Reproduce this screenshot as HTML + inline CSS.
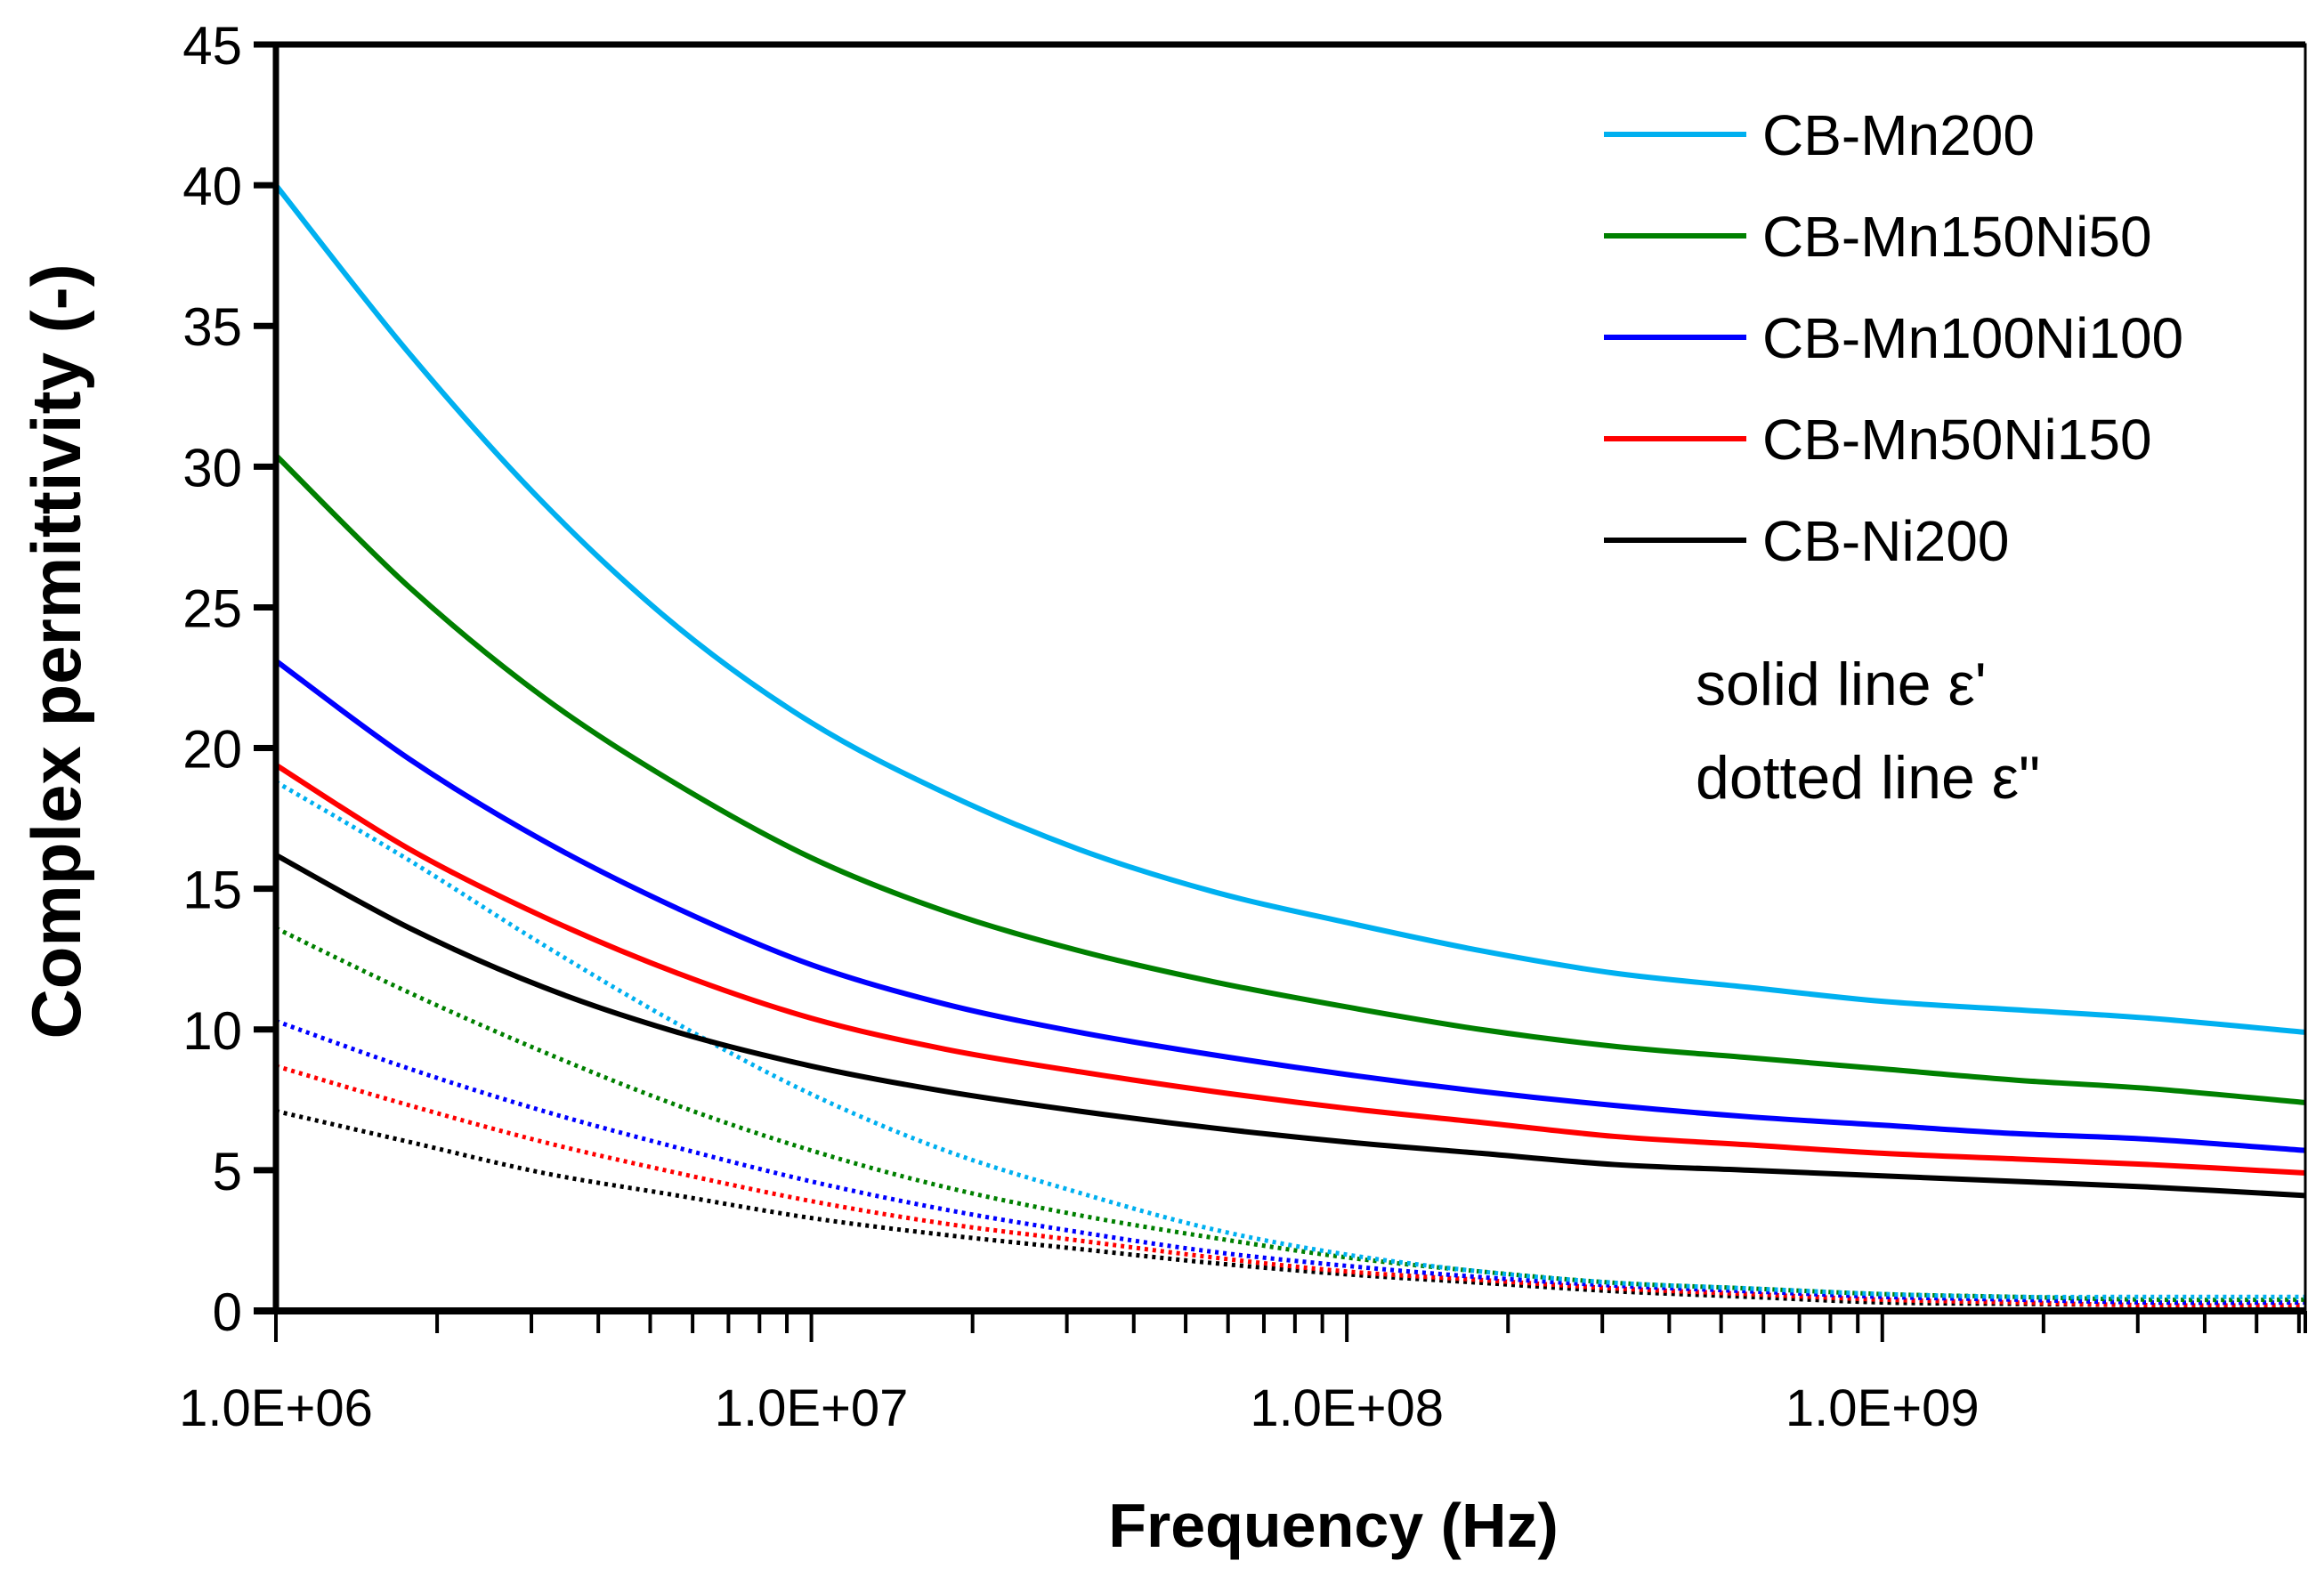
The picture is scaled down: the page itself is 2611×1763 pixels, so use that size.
<!DOCTYPE html>
<html><head><meta charset="utf-8"><style>
html,body{margin:0;padding:0;background:#fff;}
svg{display:block;font-family:"Liberation Sans",sans-serif;}
</style></head><body>
<svg id="chart" width="2611" height="1763" viewBox="0 0 2611 1763" xmlns="http://www.w3.org/2000/svg">
<g id="plot"></g>
<g id="axes"></g>
<text x="1498" y="1738" font-size="70" font-weight="bold" text-anchor="middle">Frequency (Hz)</text>
<text transform="translate(90,732) rotate(-90)" font-size="78" font-weight="bold" text-anchor="middle">Complex permittivity (-)</text>
<g id="legend"></g>
<text x="1905" y="792" font-size="68">solid line ε'</text>
<text x="1905" y="897" font-size="68">dotted line ε"</text>
</svg>
<script>
const logFreq = [6, 6.25, 6.5, 6.75, 7, 7.25, 7.5, 7.75, 8, 8.25, 8.5, 8.75, 9, 9.25, 9.5, 9.79];
const seriesNames = ["CB-Mn200","CB-Mn150Ni50","CB-Mn100Ni100","CB-Mn50Ni150","CB-Ni200"];
const seriesColors = ["#00B0F0","#008000","#0000FF","#FF0000","#000000"];
const realMn200 = [40, 34, 28.7, 24.3, 20.9, 18.4, 16.4, 14.9, 13.8, 12.8, 12.0, 11.5, 11.0, 10.7, 10.4, 9.9];
const realMn150Ni50 = [30.4, 25.7, 21.8, 18.7, 16.1, 14.2, 12.8, 11.7, 10.8, 10.0, 9.4, 9.0, 8.6, 8.2, 7.9, 7.4];
const realMn100Ni100 = [23.1, 19.6, 16.7, 14.3, 12.3, 10.9, 9.9, 9.1, 8.4, 7.8, 7.3, 6.9, 6.6, 6.3, 6.1, 5.7];
const realMn50Ni150 = [19.4, 16.4, 14.0, 12.0, 10.4, 9.3, 8.5, 7.8, 7.2, 6.7, 6.2, 5.9, 5.6, 5.4, 5.2, 4.9];
const realNi200 = [16.2, 13.6, 11.5, 9.9, 8.7, 7.8, 7.1, 6.5, 6.0, 5.6, 5.2, 5.0, 4.8, 4.6, 4.4, 4.1];
const imagMn200 = [18.8, 16.0, 13.0, 10.2, 7.7, 5.7, 4.2, 2.9, 2.0, 1.4, 1.0, 0.8, 0.6, 0.5, 0.5, 0.5];
const imagMn150Ni50 = [13.6, 11.3, 9.2, 7.3, 5.7, 4.4, 3.4, 2.6, 1.9, 1.4, 1.0, 0.8, 0.6, 0.5, 0.4, 0.4];
const imagMn100Ni100 = [10.3, 8.6, 7.1, 5.8, 4.6, 3.6, 2.8, 2.1, 1.6, 1.2, 0.9, 0.7, 0.5, 0.4, 0.3, 0.3];
const imagMn50Ni150 = [8.7, 7.3, 6.0, 4.9, 3.9, 3.1, 2.5, 1.9, 1.4, 1.1, 0.8, 0.6, 0.4, 0.3, 0.2, 0.2];
const imagNi200 = [7.1, 6.0, 4.9, 4.1, 3.3, 2.7, 2.2, 1.7, 1.3, 1.0, 0.7, 0.5, 0.3, 0.25, 0.2, 0.1];
const yTicks = [0,5,10,15,20,25,30,35,40,45];
const xTickLabels = ["1.0E+06","1.0E+07","1.0E+08","1.0E+09"];

const realSeries = [realMn200, realMn150Ni50, realMn100Ni100, realMn50Ni150, realNi200];
const imagSeries = [imagMn200, imagMn150Ni50, imagMn100Ni100, imagMn50Ni150, imagNi200];
const NS = "http://www.w3.org/2000/svg";
const L = 310, R = 2590, T = 50, B = 1473;
const xMin = 6, xMax = 9.79;
function xs(lf){ return L + (lf - xMin) / (xMax - xMin) * (R - L); }
function ys(v){ return B - v / 45 * (B - T); }
function mk(tag, attrs, parent){ const e = document.createElementNS(NS, tag); for (const k in attrs) e.setAttribute(k, attrs[k]); parent.appendChild(e); return e; }
function pathFor(vals){
  const p = logFreq.map((f,i)=>[xs(f), ys(vals[i])]);
  let d = "M" + p[0][0] + "," + p[0][1];
  for (let i=0;i<p.length-1;i++){
    const p0 = p[Math.max(0,i-1)], p1 = p[i], p2 = p[i+1], p3 = p[Math.min(p.length-1,i+2)];
    const c1 = [p1[0]+(p2[0]-p0[0])/6, p1[1]+(p2[1]-p0[1])/6];
    const c2 = [p2[0]-(p3[0]-p1[0])/6, p2[1]-(p3[1]-p1[1])/6];
    d += " C" + c1.join(",") + " " + c2.join(",") + " " + p2.join(",");
  }
  return d;
}
const plot = document.getElementById("plot");
for (let s = 4; s >= 0; s--) {
  const e = mk("path", {d: pathFor(imagSeries[s]), fill:"none", stroke: seriesColors[s], "stroke-width":5, "stroke-dasharray":"4 5"}, plot);
  
  
}
for (let s = 4; s >= 0; s--) {
  const e = mk("path", {d: pathFor(realSeries[s]), fill:"none", stroke: seriesColors[s], "stroke-width":6}, plot);
  
  
}
const axes = document.getElementById("axes");
mk("rect", {x:L, y:T, width:R-L, height:B-T, fill:"none", stroke:"#000", "stroke-width":3}, axes);
mk("line", {x1:L-25, y1:T, x2:R, y2:T, stroke:"#000", "stroke-width":7}, axes);
mk("line", {x1:L, y1:T, x2:L, y2:B, stroke:"#000", "stroke-width":7}, axes);
mk("line", {x1:L-25, y1:B, x2:R, y2:B, stroke:"#000", "stroke-width":8}, axes);
yTicks.forEach(v=>{
  mk("line", {x1:L-25, y1:ys(v), x2:L, y2:ys(v), stroke:"#000", "stroke-width":7}, axes);
  const t = mk("text", {x:L-38, y:ys(v)+22, "font-size":60, "text-anchor":"end"}, axes);
  t.textContent = v;
  
  
});
for (let d = 6; d <= 9; d++) {
  for (let m = 1; m <= 9; m++) {
    const lf = d + Math.log10(m);
    if (lf > xMax + 0.001) continue;
    mk("line", {x1:xs(lf), y1:B, x2:xs(lf), y2:B + (m===1?35:25), stroke:"#000", "stroke-width":4}, axes);
  }
}
mk("line", {x1:R, y1:B, x2:R, y2:B+25, stroke:"#000", "stroke-width":4}, axes);
xTickLabels.forEach((lab,i)=>{
  const t = mk("text", {x:xs(6+i), y:1602, "font-size":58, "text-anchor":"middle"}, axes);
  t.textContent = lab;
  
  
});
const legend = document.getElementById("legend");
seriesNames.forEach((n,i)=>{
  const y = 151 + i*114;
  const ln = mk("line", {x1:1802, y1:y, x2:1962, y2:y, stroke:seriesColors[i], "stroke-width":6}, legend);
  
  
  const t = mk("text", {x:1980, y:y+23, "font-size":64}, legend);
  t.textContent = n;
  
  
});
</script>
</body></html>
